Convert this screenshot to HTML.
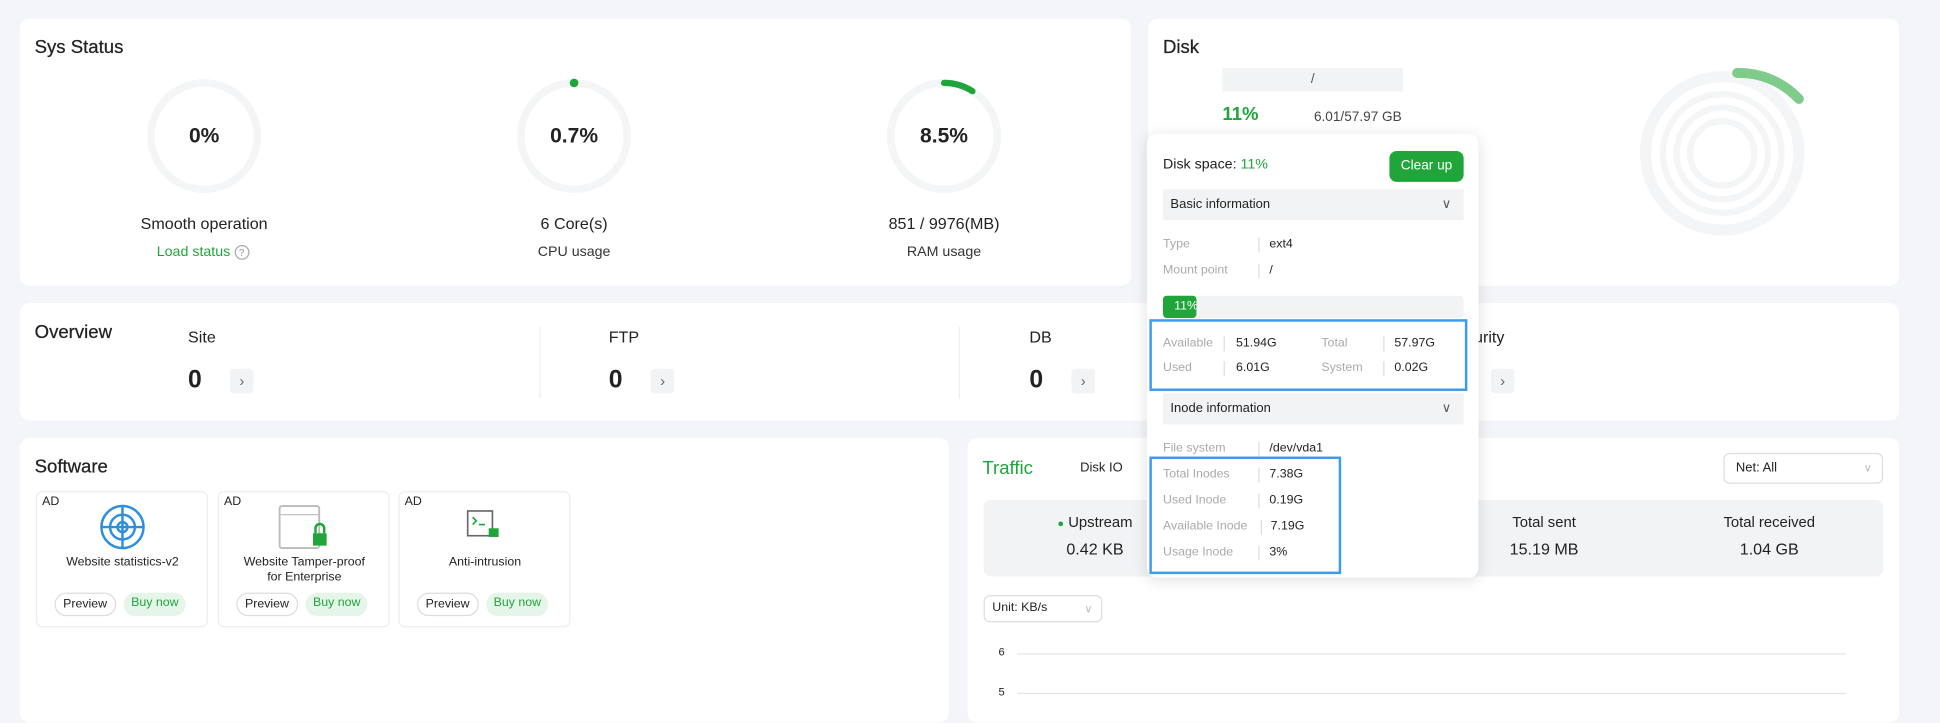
<!DOCTYPE html>
<html><head><meta charset="utf-8"><style>
*{box-sizing:border-box;margin:0;padding:0}
body{width:1940px;height:699px;overflow:hidden;background:#f3f5f8;font-family:"Liberation Sans",sans-serif;color:#222}
#w{position:absolute;left:0;top:0;width:1568px;height:565px;transform:scale(1.23724);transform-origin:0 0}
.a{position:absolute;white-space:nowrap}
.card{position:absolute;background:#fff;border-radius:8px}
.t{font-size:15px;color:#222;-webkit-text-stroke:0.2px #222}
.c{text-align:center;transform:translateX(-50%)}
.arr{position:absolute;width:19px;height:20px;background:#f1f3f5;border-radius:3px;color:#666;font-size:12px;text-align:center;line-height:20px}
.g{color:#20a53a}
.lbl{color:#aaa;font-size:10px}
.val{font-size:10px;color:#222}
.dv{position:absolute;width:1px;height:12px;background:#ddd}
.sw{position:absolute;top:397px;width:139px;height:110px;border:1px solid #eee;border-radius:5px;background:#fff}
.btn{position:absolute;top:81px;height:19px;font-size:10px;line-height:17px;border-radius:10px;padding:0 6px}
</style></head><body><div id="w">
<div class="card" style="left:16px;top:15px;width:898px;height:216px"></div>
<div class="a t" style="left:28px;top:30px">Sys Status</div>
<svg class="a" style="left:0;top:0" width="914" height="231">
<g fill="none" stroke="#f3f5f6" stroke-width="6"><circle cx="165" cy="110" r="43"/><circle cx="464" cy="110" r="43"/><circle cx="763" cy="110" r="43"/></g>
<circle cx="464" cy="67" r="3.5" fill="#20a53a"/>
<path d="M763 67 A43 43 0 0 1 786 73.7" fill="none" stroke="#20a53a" stroke-width="5" stroke-linecap="round"/>
</svg>
<div class="a c" style="left:165px;top:100px;font-size:17px;font-weight:bold">0%</div>
<div class="a c" style="left:464px;top:100px;font-size:17px;font-weight:bold">0.7%</div>
<div class="a c" style="left:763px;top:100px;font-size:17px;font-weight:bold">8.5%</div>
<div class="a c" style="left:165px;top:173px;font-size:13px">Smooth operation</div>
<div class="a c" style="left:164px;top:198px;font-size:11.5px;color:#20a53a">Load status <span style="display:inline-block;width:12px;height:12px;border:1px solid #aaa;border-radius:50%;font-size:8px;color:#999;text-align:center;line-height:11px">?</span></div>
<div class="a c" style="left:464px;top:173px;font-size:13px">6 Core(s)</div>
<div class="a c" style="left:464px;top:198px;font-size:11.5px;color:#333">CPU usage</div>
<div class="a c" style="left:763px;top:173px;font-size:13px">851 / 9976(MB)</div>
<div class="a c" style="left:763px;top:198px;font-size:11.5px;color:#333">RAM usage</div>

<div class="card" style="left:928px;top:15px;width:607px;height:216px"></div>
<div class="a t" style="left:940px;top:30px">Disk</div>
<div class="a" style="left:988px;top:55px;width:146px;height:19px;background:#f1f3f5;text-align:center;font-size:11px;line-height:19px;color:#555">/</div>
<div class="a g" style="left:988px;top:84px;font-size:15px;font-weight:bold">11%</div>
<div class="a" style="left:1062px;top:89px;font-size:11px;color:#444">6.01/57.97 GB</div>
<svg class="a" style="left:1300px;top:30px" width="190" height="190">
<g fill="none" stroke="#f3f5f6"><circle cx="92" cy="94" r="62" stroke-width="9"/><circle cx="92" cy="94" r="48" stroke-width="5"/><circle cx="92" cy="94" r="37" stroke-width="5"/><circle cx="92" cy="94" r="26" stroke-width="5"/></g>
<path d="M104 29 A66 66 0 0 1 154 50" fill="none" stroke="#7ecb8a" stroke-width="8" stroke-linecap="round"/>
</svg>

<div class="card" style="left:16px;top:245px;width:1519px;height:95px"></div>
<div class="a t" style="left:28px;top:260px">Overview</div>
<div class="a" style="left:152px;top:265px;font-size:13px">Site</div>
<div class="a" style="left:152px;top:296px;font-size:20px;font-weight:bold">0</div>
<div class="arr" style="left:186px;top:298px">›</div>
<div class="a" style="left:436px;top:264px;width:1px;height:58px;background:#eee"></div>
<div class="a" style="left:492px;top:265px;font-size:13px">FTP</div>
<div class="a" style="left:492px;top:296px;font-size:20px;font-weight:bold">0</div>
<div class="arr" style="left:526px;top:298px">›</div>
<div class="a" style="left:775px;top:264px;width:1px;height:58px;background:#eee"></div>
<div class="a" style="left:832px;top:265px;font-size:13px">DB</div>
<div class="a" style="left:832px;top:296px;font-size:20px;font-weight:bold">0</div>
<div class="arr" style="left:866px;top:298px">›</div>
<div class="a" style="left:1169px;top:265px;font-size:13px">Security</div>
<div class="arr" style="left:1205px;top:298px">›</div>

<div class="card" style="left:16px;top:354px;width:751px;height:230px"></div>
<div class="a t" style="left:28px;top:369px">Software</div>
<div class="sw" style="left:29px"><div class="a" style="left:4px;top:2px;font-size:10px">AD</div>
<svg class="a" style="left:50px;top:9px" width="38" height="38"><g fill="none" stroke="#2e8fde" stroke-width="2"><circle cx="19" cy="19" r="17"/><circle cx="19" cy="19" r="10"/><circle cx="19" cy="19" r="4"/><path d="M2 19H36M19 2V36"/></g></svg>
<div class="a c" style="left:69px;top:51px;font-size:10px">Website statistics-v2</div>
<div class="btn" style="left:14px;border:1px solid #ddd">Preview</div><div class="btn g" style="left:70px;background:#e6f5e9">Buy now</div></div>
<div class="sw" style="left:176px"><div class="a" style="left:4px;top:2px;font-size:10px">AD</div>
<svg class="a" style="left:48px;top:9px" width="44" height="38"><rect x="1" y="2" width="32" height="34" rx="2" fill="#fff" stroke="#bbb" stroke-width="1.5"/><path d="M1 9H33" stroke="#bbb"/><rect x="28" y="24" width="11" height="10" fill="#20a53a"/><path d="M30 24v-4a3.5 3.5 0 0 1 7 0v4" fill="none" stroke="#20a53a" stroke-width="2"/></svg>
<div class="a c" style="left:69px;top:51px;font-size:10px;text-align:center;line-height:12px">Website Tamper-proof<br>for Enterprise</div>
<div class="btn" style="left:14px;border:1px solid #ddd">Preview</div><div class="btn g" style="left:70px;background:#e6f5e9">Buy now</div></div>
<div class="sw" style="left:322px"><div class="a" style="left:4px;top:2px;font-size:10px">AD</div>
<svg class="a" style="left:54px;top:14px" width="30" height="26"><rect x="1" y="1" width="20" height="20" fill="#fff" stroke="#666" stroke-width="1.3"/><path d="M5 6l3 3-3 3M10 12h5" stroke="#20a53a" fill="none" stroke-width="1.3"/><rect x="18" y="15" width="8" height="7" fill="#20a53a"/></svg>
<div class="a c" style="left:69px;top:51px;font-size:10px">Anti-intrusion</div>
<div class="btn" style="left:14px;border:1px solid #ddd">Preview</div><div class="btn g" style="left:70px;background:#e6f5e9">Buy now</div></div>

<div class="card" style="left:782px;top:354px;width:753px;height:230px"></div>
<div class="a g" style="left:794px;top:370px;font-size:15px">Traffic</div>
<div class="a" style="left:873px;top:372px;font-size:10.5px">Disk IO</div>
<div class="a" style="left:1393px;top:366px;width:129px;height:25px;border:1px solid #ddd;border-radius:5px;font-size:10.5px;line-height:23px;padding-left:9px">Net: All<span style="position:absolute;right:8px;color:#bbb;font-size:9px">∨</span></div>
<div class="a" style="left:795px;top:404px;width:727px;height:62px;background:#f1f3f5;border-radius:6px"></div>
<div class="a c" style="left:885px;top:415px;font-size:12px"><span class="g" style="font-size:9px">●</span> Upstream</div>
<div class="a c" style="left:885px;top:436px;font-size:13px">0.42 KB</div>
<div class="a c" style="left:1248px;top:415px;font-size:12px">Total sent</div>
<div class="a c" style="left:1248px;top:436px;font-size:13px">15.19 MB</div>
<div class="a c" style="left:1430px;top:415px;font-size:12px">Total received</div>
<div class="a c" style="left:1430px;top:436px;font-size:13px">1.04 GB</div>
<div class="a" style="left:795px;top:481px;width:96px;height:22px;border:1px solid #ddd;border-radius:5px;font-size:10px;line-height:20px;padding-left:6px">Unit: KB/s<span style="position:absolute;right:7px;color:#bbb;font-size:9px">∨</span></div>
<div class="a" style="left:807px;top:522px;font-size:9px">6</div>
<div class="a" style="left:822px;top:528px;width:670px;height:1px;background:#e5e5e5"></div>
<div class="a" style="left:807px;top:554px;font-size:9px">5</div>
<div class="a" style="left:822px;top:560px;width:670px;height:1px;background:#e5e5e5"></div>

<div class="card" style="left:927px;top:108px;width:268px;height:359px;box-shadow:0 2px 12px rgba(0,0,0,.12)"></div>
<div class="a" style="left:940px;top:127px;font-size:11.5px">Disk space: <span class="g">11%</span></div>
<div class="a" style="left:1123px;top:122px;width:60px;height:25px;background:#20a53a;border-radius:6px;color:#fff;font-size:11px;text-align:center;line-height:25px">Clear up</div>
<div class="a" style="left:940px;top:153px;width:243px;height:25px;background:#f1f3f5;font-size:10.5px;line-height:25px;padding-left:6px">Basic information<span style="position:absolute;right:10px;color:#555">∨</span></div>
<div class="a lbl" style="left:940px;top:192px">Type</div><div class="dv" style="left:1017px;top:192px"></div><div class="a val" style="left:1026px;top:192px">ext4</div>
<div class="a lbl" style="left:940px;top:213px">Mount point</div><div class="dv" style="left:1017px;top:213px"></div><div class="a val" style="left:1026px;top:213px">/</div>
<div class="a" style="left:940px;top:239px;width:243px;height:18px;background:#f1f3f5;border-radius:3px"></div>
<div class="a" style="left:940px;top:239px;width:27px;height:18px;background:#20a53a;border-radius:3px;color:#fff;font-size:10px;line-height:18px;padding-left:9px;overflow:hidden">11%</div>
<div class="a" style="left:929px;top:258px;width:257px;height:58px;border:2px solid #3d9bf0"></div>
<div class="a lbl" style="left:940px;top:272px">Available</div><div class="dv" style="left:989px;top:272px"></div><div class="a val" style="left:999px;top:272px">51.94G</div>
<div class="a lbl" style="left:1068px;top:272px">Total</div><div class="dv" style="left:1118px;top:272px"></div><div class="a val" style="left:1127px;top:272px">57.97G</div>
<div class="a lbl" style="left:940px;top:292px">Used</div><div class="dv" style="left:989px;top:292px"></div><div class="a val" style="left:999px;top:292px">6.01G</div>
<div class="a lbl" style="left:1068px;top:292px">System</div><div class="dv" style="left:1118px;top:292px"></div><div class="a val" style="left:1127px;top:292px">0.02G</div>
<div class="a" style="left:940px;top:318px;width:243px;height:25px;background:#f1f3f5;font-size:10.5px;line-height:25px;padding-left:6px">Inode information<span style="position:absolute;right:10px;color:#555">∨</span></div>
<div class="a lbl" style="left:940px;top:357px">File system</div><div class="dv" style="left:1017px;top:357px"></div><div class="a val" style="left:1026px;top:357px">/dev/vda1</div>
<div class="a" style="left:929px;top:369px;width:155px;height:95px;border:2px solid #3d9bf0"></div>
<div class="a lbl" style="left:940px;top:378px">Total Inodes</div><div class="dv" style="left:1017px;top:378px"></div><div class="a val" style="left:1026px;top:378px">7.38G</div>
<div class="a lbl" style="left:940px;top:399px">Used Inode</div><div class="dv" style="left:1017px;top:399px"></div><div class="a val" style="left:1026px;top:399px">0.19G</div>
<div class="a lbl" style="left:940px;top:420px">Available Inode</div><div class="dv" style="left:1019px;top:420px"></div><div class="a val" style="left:1027px;top:420px">7.19G</div>
<div class="a lbl" style="left:940px;top:441px">Usage Inode</div><div class="dv" style="left:1017px;top:441px"></div><div class="a val" style="left:1026px;top:441px">3%</div>
</div></body></html>
